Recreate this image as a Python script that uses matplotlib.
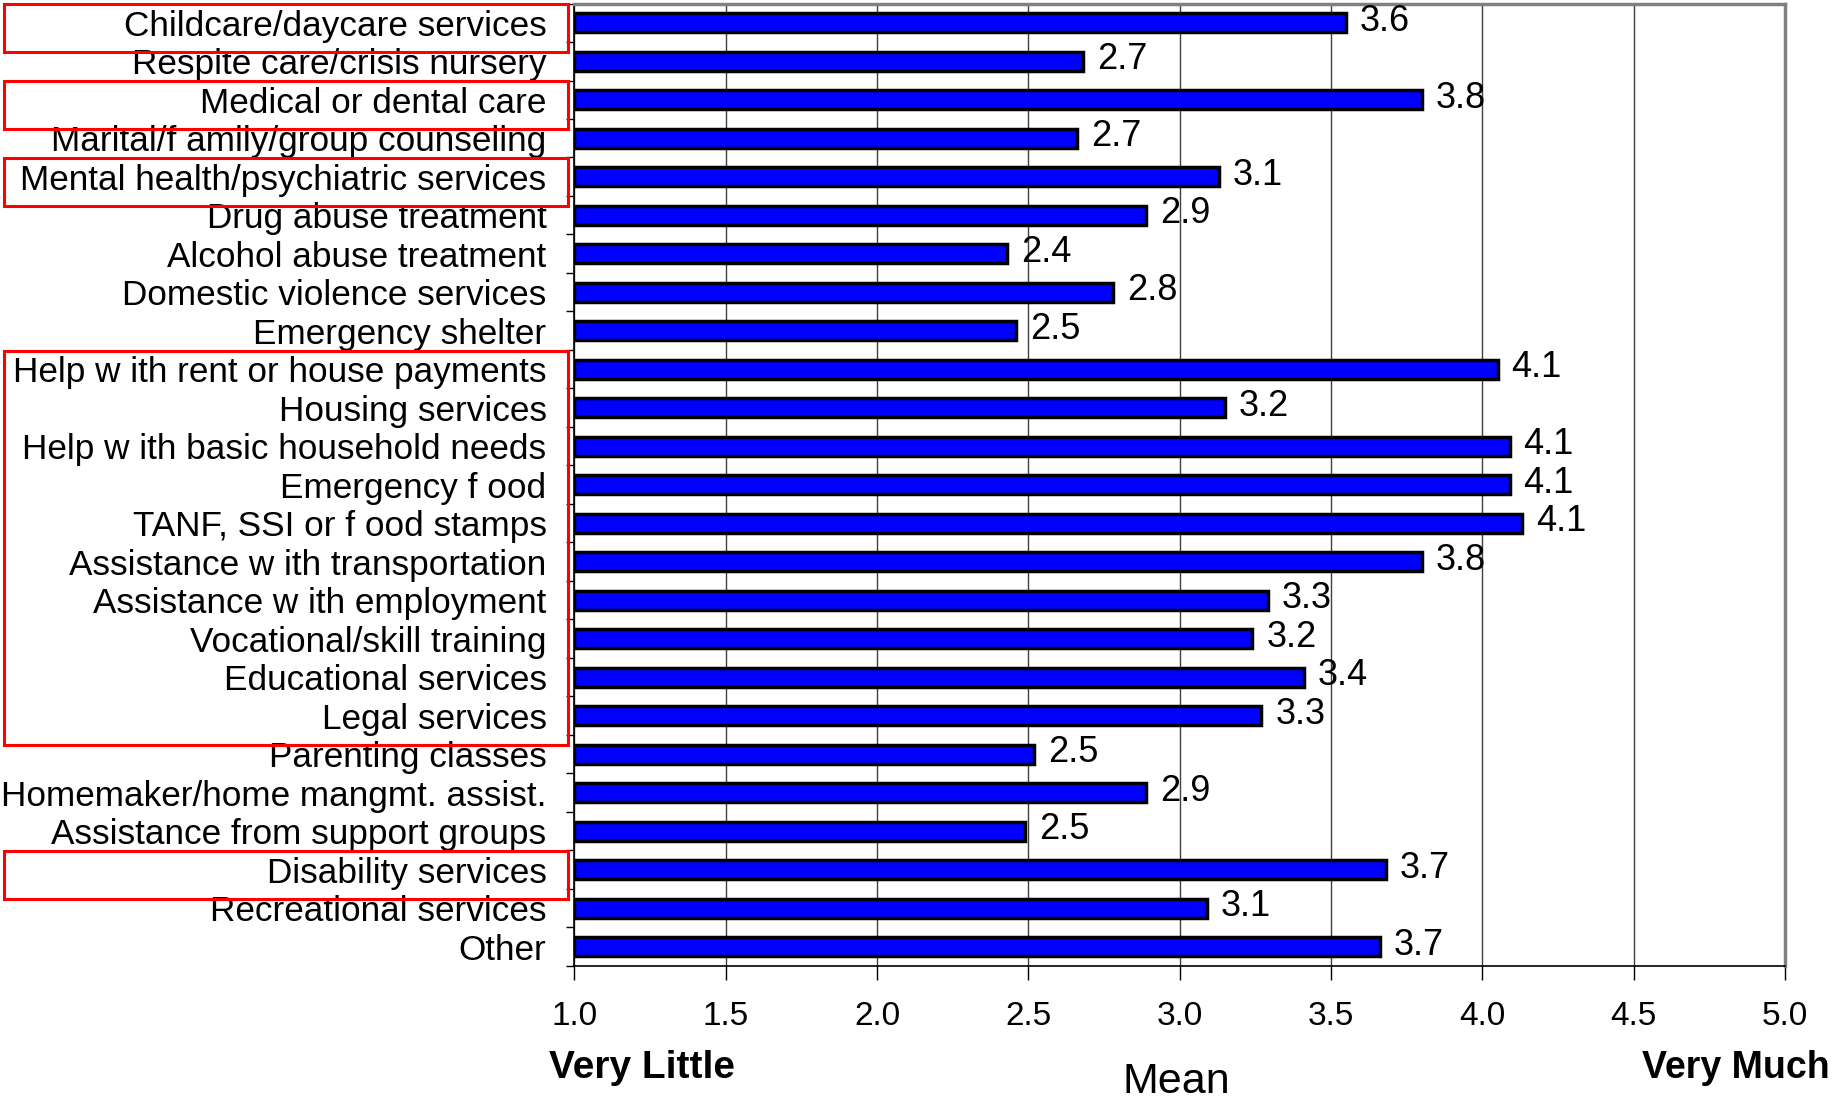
import matplotlib
matplotlib.use("Agg")
import matplotlib.pyplot as plt
from matplotlib.patches import Rectangle
from matplotlib.transforms import blended_transform_factory

plt.rcParams['font.family'] = ['Liberation Sans', 'DejaVu Sans']

services = [
    "Childcare/daycare services",
    "Respite care/crisis nursery",
    "Medical or dental care",
    "Marital/f amily/group counseling",
    "Mental health/psychiatric services",
    "Drug abuse treatment",
    "Alcohol abuse treatment",
    "Domestic violence services",
    "Emergency shelter",
    "Help w ith rent or house payments",
    "Housing services",
    "Help w ith basic household needs",
    "Emergency f ood",
    "TANF, SSI or f ood stamps",
    "Assistance w ith transportation",
    "Assistance w ith employment",
    "Vocational/skill training",
    "Educational services",
    "Legal services",
    "Parenting classes",
    "Homemaker/home mangmt. assist.",
    "Assistance from support groups",
    "Disability services",
    "Recreational services",
    "Other",
]
# bar lengths
means = [3.55, 2.68, 3.80, 2.66, 3.13, 2.89, 2.43, 2.78, 2.46, 4.05,
         3.15, 4.09, 4.09, 4.13, 3.80, 3.29, 3.24, 3.41, 3.27, 2.52,
         2.89, 2.49, 3.68, 3.09, 3.66]
# printed data labels
mean_labels = ["3.6", "2.7", "3.8", "2.7", "3.1", "2.9", "2.4", "2.8", "2.5", "4.1",
               "3.2", "4.1", "4.1", "4.1", "3.8", "3.3", "3.2", "3.4", "3.3", "2.5",
               "2.9", "2.5", "3.7", "3.1", "3.7"]
xticks = [1.0, 1.5, 2.0, 2.5, 3.0, 3.5, 4.0, 4.5, 5.0]
# highlighted groups of rows (first, last)
highlight_rows = [(0, 0), (2, 2), (4, 4), (9, 18), (22, 22)]

fig = plt.figure(figsize=(18.33, 10.98), dpi=100)
ax = fig.add_axes([0.3133, 0.1203, 0.6606, 0.8765])

rows = list(range(len(services)))
ax.barh(rows, [m - 1.0 for m in means], left=1.0, height=0.5,
        color='#0000FF', edgecolor='black', linewidth=2.5, zorder=3)

for r, m, lab in zip(rows, means, mean_labels):
    ax.annotate(lab, (m, r), xytext=(10, 1), textcoords='offset points',
                va='center', ha='left', fontsize=26, zorder=4)

ax.set_xlim(1.0, 5.0)
ax.set_ylim(len(services) - 0.5, -0.5)
ax.set_xticks(xticks)
ax.set_xticklabels([f"{t:.1f}" for t in xticks], fontsize=24)
ax.tick_params(axis='x', direction='out', length=10, width=1, pad=15)

ax.set_yticks(rows)
ax.set_yticklabels(services, fontsize=25.3)
ax.tick_params(axis='y', which='major', length=0, pad=20)
ax.set_yticks([r - 0.5 for r in rows] + [len(services) - 0.5], minor=True)
ax.tick_params(axis='y', which='minor', direction='out', length=6, width=1)

ax.grid(axis='x', color='#404040', linewidth=1, zorder=0)
ax.set_axisbelow(True)
for side in ['top', 'right']:
    ax.spines[side].set_color('#808080')
    ax.spines[side].set_linewidth(2.5)
for side in ['left', 'bottom']:
    ax.spines[side].set_color('black')
    ax.spines[side].set_linewidth(1.2)

# red highlight boxes around selected services
trans = blended_transform_factory(fig.transFigure, ax.transData)
for first, last in highlight_rows:
    top = first - 0.48
    bottom = last + 0.75
    ax.add_patch(Rectangle((0.002, top), 0.308, bottom - top, transform=trans,
                           fill=False, edgecolor='#FF0000', linewidth=2.2,
                           clip_on=False, zorder=5))

fig.text(0.2997, 0.0277, "Very Little", fontsize=28, fontweight='bold',
         ha='left', va='center')
fig.text(0.896, 0.0277, "Very Much", fontsize=27, fontweight='bold',
         ha='left', va='center')
fig.text(0.642, 0.0149, "Mean", fontsize=31, ha='center', va='center')

fig.savefig("out.png", dpi=100)
